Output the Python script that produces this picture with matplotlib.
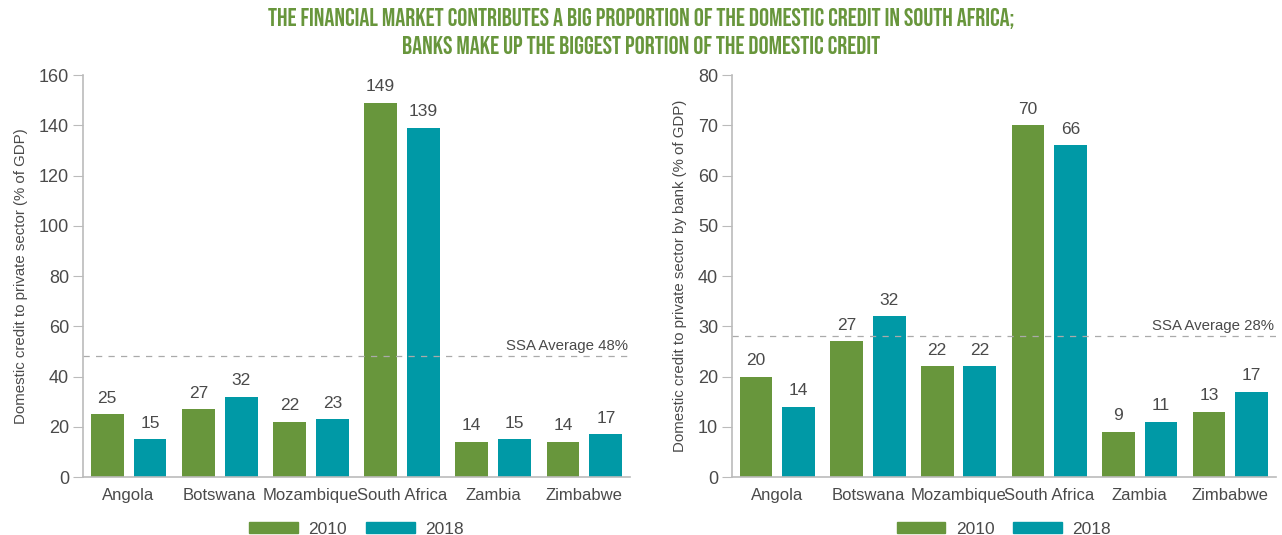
import numpy as np
import matplotlib
matplotlib.use('Agg')
import matplotlib.pyplot as plt
from matplotlib import font_manager
from matplotlib.patches import Patch

countries = ["Angola", "Botswana", "Mozambique", "South Africa", "Zambia", "Zimbabwe"]
years = ["2010", "2018"]

# Domestic credit to private sector (% of GDP)
credit_2010 = [25, 27, 22, 149, 14, 14]
credit_2018 = [15, 32, 23, 139, 15, 17]
credit_ssa_avg = 48

# Domestic credit to private sector by bank (% of GDP)
bank_2010 = [20, 27, 22, 70, 9, 13]
bank_2018 = [14, 32, 22, 66, 11, 17]
bank_ssa_avg = 28

GREEN = "#68963c"
TEAL = "#0099a6"
TEXT = "#4a4a4a"
AXIS = "#bbbbbb"

plt.rcParams['font.family'] = ['Liberation Sans', 'DejaVu Sans']

# condensed face for the headline, first one installed wins
installed = {f.name for f in font_manager.fontManager.ttflist}
title_font = next((n for n in ["Bebas Neue", "Oswald", "Fjalla One", "Barlow Condensed",
                               "Roboto Condensed"] if n in installed), "DejaVu Sans")

fig = plt.figure(figsize=(12.82, 5.35), dpi=100)
ax1 = fig.add_axes([0.0647, 0.1084, 0.4267, 0.7514])
ax2 = fig.add_axes([0.571, 0.1084, 0.424, 0.7514])


def draw_panel(ax, v2010, v2018, avg, ymax, step, ylabel):
    x = np.arange(len(countries))
    w = 0.36
    off = 0.235
    b1 = ax.bar(x - off, v2010, w, color=GREEN)
    b2 = ax.bar(x + off, v2018, w, color=TEAL)
    for bars, vals in ((b1, v2010), (b2, v2018)):
        for bar, v in zip(bars, vals):
            ax.annotate(f"{v}", (bar.get_x() + bar.get_width() / 2, v),
                        xytext=(0, 6), textcoords="offset points",
                        ha="center", va="bottom", fontsize=12.5, color=TEXT)
    ax.axhline(avg, color="#aaaaaa", linestyle=(0, (5, 5)), linewidth=0.9)
    ax.text(len(countries) - 0.52, avg + ymax * 0.008, f"SSA Average {avg}%", ha="right", va="bottom",
            fontsize=10.8, color=TEXT)
    ax.set_xlim(-0.5, len(countries) - 0.5)
    ax.set_ylim(0, ymax)
    ax.set_yticks(np.arange(0, ymax + 1, step))
    ax.set_xticks(x)
    ax.set_xticklabels(countries)
    ax.tick_params(axis="x", length=0, pad=8, labelsize=12, labelcolor=TEXT)
    ax.tick_params(axis="y", length=7, color=AXIS, pad=3, labelsize=13, labelcolor=TEXT)
    for s in ("top", "right"):
        ax.spines[s].set_visible(False)
    for s in ("left", "bottom"):
        ax.spines[s].set_color(AXIS)
        ax.spines[s].set_linewidth(1.2)
    ax.set_ylabel(ylabel, fontsize=10.8, color=TEXT, labelpad=8)
    handles = [Patch(color=GREEN, label=years[0]), Patch(color=TEAL, label=years[1])]
    ax.legend(handles=handles, loc="center", bbox_to_anchor=(0.5, -0.13), ncol=2,
              frameon=False, fontsize=12.5, handlelength=2.8, handleheight=0.55,
              columnspacing=1.1, handletextpad=0.6, labelcolor=TEXT,
              borderpad=0.1)


draw_panel(ax1, credit_2010, credit_2018, credit_ssa_avg, 160, 20,
           "Domestic credit to private sector (% of GDP)")
draw_panel(ax2, bank_2010, bank_2018, bank_ssa_avg, 80, 10,
           "Domestic credit to private sector by bank (% of GDP)")

title_lines = ["THE FINANCIAL MARKET CONTRIBUTES A BIG PROPORTION OF THE DOMESTIC CREDIT IN SOUTH AFRICA;",
               "BANKS MAKE UP THE BIGGEST PORTION OF THE DOMESTIC CREDIT"]
for line, y in zip(title_lines, (0.966, 0.916)):
    fig.text(0.5, y, line, ha="center", va="center", fontsize=18, color=GREEN,
             family=[title_font, "DejaVu Sans"])

fig.savefig("out.png", dpi=100)
